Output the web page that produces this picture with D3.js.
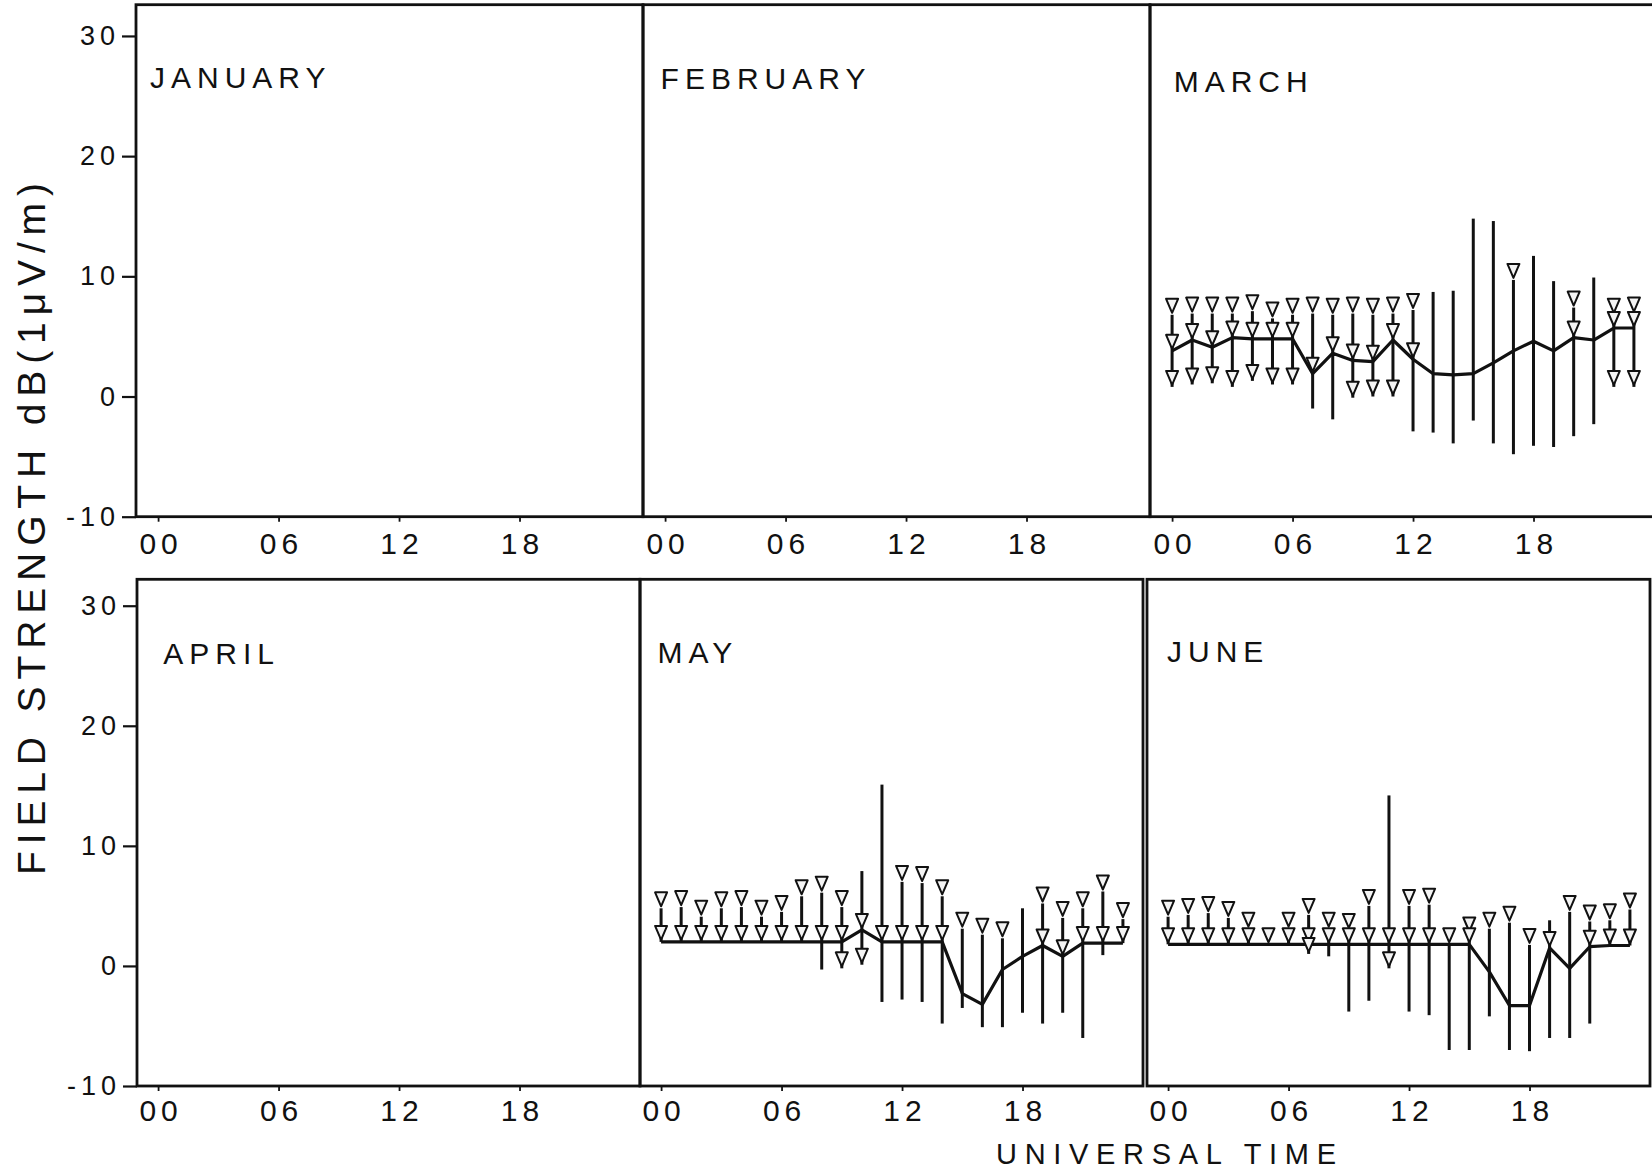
<!DOCTYPE html>
<html><head><meta charset="utf-8">
<script src="https://cdn.jsdelivr.net/npm/d3@7"></script>
<style>
body{margin:0;background:#fff}
svg{display:block;background:#fff}
text{font-family:"Liberation Sans",Arial,Helvetica,sans-serif;fill:#111}
</style></head><body>
<svg id="chart" width="1652" height="1172"></svg>
<script>
// ---------------- data ----------------
const months = ["JANUARY","FEBRUARY","MARCH","APRIL","MAY","JUNE"];
const hours = [0,1,2,3,4,5,6,7,8,9,10,11,12,13,14,15,16,17,18,19,20,21,22,23];
const yTicks = [-10, 0, 10, 20, 30];
const yTickLabels = ["-10","0","10","20","30"];
const xTicks = [0, 6, 12, 18];
const xTickLabels = ["00","06","12","18"];
const yTitle = "FIELD STRENGTH dB(1\u03BCV/m)";
const xTitle = "UNIVERSAL TIME";

// upper decile / median / lower decile (dB); *LT = 1 where the value is a "less than" (triangle) value
const marchUpper    = [6.8,6.9,6.9,6.9,7.1,6.5,6.8,6.9,6.8,6.9,6.8,6.9,7.2,8.7,8.8,14.8,14.6,9.7,11.7,9.6,7.4,9.9,6.8,6.9];
const marchUpperLT  = [1,1,1,1,1,1,1,1,1,1,1,1,1,0,0,0,0,1,0,0,1,0,1,1];
const marchMedian   = [3.8,4.7,4.1,4.9,4.8,4.8,4.8,1.9,3.6,3.0,2.9,4.7,3.1,1.9,1.8,1.9,2.8,3.8,4.6,3.8,4.9,4.7,5.7,5.7];
const marchMedianLT = [1,1,1,1,1,1,1,1,1,1,1,1,1,0,0,0,0,0,0,0,1,0,1,1];
const marchLower    = [0.8,1.0,1.1,0.8,1.3,1.0,1.0,-1.0,-1.9,-0.1,0.0,0.0,-2.9,-3.0,-3.9,-2.0,-3.9,-4.8,-4.1,-4.2,-3.3,-2.3,0.8,0.8];
const marchLowerLT  = [1,1,1,1,1,1,1,0,0,1,1,1,0,0,0,0,0,0,0,0,0,0,1,1];

const mayUpper    = [4.8,4.9,4.1,4.8,4.9,4.1,4.5,5.8,6.1,4.9,7.9,15.1,7.0,6.9,5.8,3.1,2.6,2.3,4.8,5.2,4.0,4.8,6.2,3.9];
const mayUpperLT  = [1,1,1,1,1,1,1,1,1,1,0,0,1,1,1,1,1,1,0,1,1,1,1,1];
const mayMedian   = [2.0,2.0,2.0,2.0,2.0,2.0,2.0,2.0,2.0,2.0,3.0,2.0,2.0,2.0,2.0,-2.3,-3.2,-0.3,0.8,1.7,0.8,1.9,1.9,1.9];
const mayMedianLT = [1,1,1,1,1,1,1,1,1,1,1,1,1,1,1,0,0,0,0,1,1,1,1,1];
const mayLower    = [null,null,null,null,null,null,null,null,-0.3,-0.2,0.1,-3.0,-2.8,-3.0,-4.8,-3.5,-5.1,-5.1,-3.9,-4.8,-3.9,-6.0,0.9,null];
const mayLowerLT  = [0,0,0,0,0,0,0,0,0,1,1,0,0,0,0,0,0,0,0,0,0,0,0,0];

const juneUpper    = [4.1,4.25,4.4,4.0,3.1,null,3.1,4.25,3.1,3.0,5.0,14.2,5.0,5.1,null,2.7,3.1,3.6,1.75,3.8,4.5,3.7,3.8,4.7];
const juneUpperLT  = [1,1,1,1,1,0,1,1,1,1,1,0,1,1,0,1,1,1,1,0,1,1,1,1];
const juneMedian   = [1.8,1.8,1.8,1.8,1.8,1.8,1.8,1.8,1.8,1.8,1.8,1.8,1.8,1.8,1.8,1.8,-0.5,-3.3,-3.3,1.5,-0.2,1.6,1.7,1.7];
const juneMedianLT = [1,1,1,1,1,1,1,1,1,1,1,1,1,1,1,1,0,0,0,1,0,1,1,1];
const juneLower    = [null,null,null,null,null,null,null,1.0,0.8,-3.8,-2.9,-0.2,-3.8,-4.1,-7.0,-7.0,-4.2,-7.0,-7.1,-6.0,-6.0,-4.8,null,null];
const juneLowerLT  = [0,0,0,0,0,0,0,1,0,0,0,1,0,0,0,0,0,0,0,0,0,0,0,0];

const series = {
  MARCH: {upper:marchUpper, upperLT:marchUpperLT, median:marchMedian, medianLT:marchMedianLT, lower:marchLower, lowerLT:marchLowerLT},
  MAY:   {upper:mayUpper,   upperLT:mayUpperLT,   median:mayMedian,   medianLT:mayMedianLT,   lower:mayLower,   lowerLT:mayLowerLT},
  JUNE:  {upper:juneUpper,  upperLT:juneUpperLT,  median:juneMedian,  medianLT:juneMedianLT,  lower:juneLower,  lowerLT:juneLowerLT}
};

// ---------------- layout ----------------
const ink = "#111";
const rows = [
  {top:4.7,   bottom:516.7, yMax:32.6, lefts:[136,643,1150], width:507, xMin:-1.1,  xMax:24.15, tickPad:11},
  {top:579.3, bottom:1086,  yMax:32.2, lefts:[137,640,1147], width:503, xMin:-1.05, xMax:24.0,  tickPad:9}
];
const labelOffsets = [[14,83.6],[17.6,83.8],[23.7,87],[26.3,85],[17.4,83.4],[20,82.3]];

const svg = d3.select("#chart");

function tri(cx, ay){
  const p = d3.path();
  p.moveTo(cx, ay); p.lineTo(cx-6, ay-14); p.lineTo(cx+6, ay-14); p.closePath();
  return p.toString();
}

months.forEach((m, i) => {
  const r = rows[Math.floor(i/3)], c = i % 3;
  const left = r.lefts[c], right = left + r.width;
  const x = d3.scaleLinear().domain([r.xMin, r.xMax]).range([left, right]);
  const y = d3.scaleLinear().domain([-10, r.yMax]).range([r.bottom, r.top]);
  const g = svg.append("g");

  g.append("rect").attr("x", left).attr("y", r.top)
    .attr("width", r.width).attr("height", r.bottom - r.top)
    .attr("fill", "none").attr("stroke", ink).attr("stroke-width", 2.8);

  const ax = g.append("g").attr("transform", `translate(0,${r.bottom})`)
    .call(d3.axisBottom(x).tickValues(xTicks).tickSize(5).tickPadding(r.tickPad)
      .tickFormat((d, k) => xTickLabels[k]));
  ax.select(".domain").remove();
  ax.selectAll("line").attr("stroke", ink).attr("stroke-width", 1.8);
  ax.selectAll("text").attr("font-size", 30).attr("letter-spacing", 5).attr("dx", 2.5).attr("fill", ink);

  if (c === 0) {
    const ay = g.append("g").attr("transform", `translate(${left},0)`)
      .call(d3.axisLeft(y).tickValues(yTicks).tickSize(14).tickPadding(7)
        .tickFormat((d, k) => yTickLabels[k]));
    ay.select(".domain").remove();
    ay.selectAll("line").attr("stroke", ink).attr("stroke-width", 2.2);
    ay.selectAll("text").attr("font-size", 27).attr("letter-spacing", 5).attr("dx", 5).attr("fill", ink);
  }

  g.append("text").attr("x", left + labelOffsets[i][0]).attr("y", r.top + labelOffsets[i][1])
    .attr("font-size", 30).attr("letter-spacing", 6).text(m);

  const s = series[m];
  if (!s) return;
  const pts = hours.map((h, k) => ({h, up:s.upper[k], upLT:s.upperLT[k], med:s.median[k], medLT:s.medianLT[k], lo:s.lower[k], loLT:s.lowerLT[k]}));

  // decile ranges
  g.append("g").selectAll("line").data(pts).join("line")
    .attr("x1", d => x(d.h)).attr("x2", d => x(d.h))
    .attr("y1", d => y(d3.max([d.up, d.med, d.lo].filter(v => v != null))))
    .attr("y2", d => y(d3.min([d.up, d.med, d.lo].filter(v => v != null))))
    .attr("stroke", ink).attr("stroke-width", 3);

  // median line
  g.append("path").datum(pts)
    .attr("d", d3.line().x(d => x(d.h)).y(d => y(d.med)))
    .attr("fill", "none").attr("stroke", ink).attr("stroke-width", 3.2).attr("stroke-linejoin", "round");

  // "less than" triangles
  const tris = [];
  pts.forEach(d => {
    if (d.upLT && d.up != null) tris.push({h:d.h, v:d.up});
    if (d.medLT && d.med != null) tris.push({h:d.h, v:d.med});
    if (d.loLT && d.lo != null) tris.push({h:d.h, v:d.lo});
  });
  g.append("g").selectAll("path").data(tris).join("path")
    .attr("d", d => tri(x(d.h), y(d.v) - 2))
    .attr("fill", "#f4f4f4").attr("stroke", ink).attr("stroke-width", 2).attr("stroke-linejoin", "round");
});

// titles
svg.append("text").attr("transform", "translate(45,529) rotate(-90)")
  .attr("text-anchor", "middle").attr("font-size", 39)
  .attr("textLength", 692).attr("lengthAdjust", "spacing").text(yTitle);
svg.append("text").attr("x", 1166).attr("y", 1164)
  .attr("text-anchor", "middle").attr("font-size", 29)
  .attr("textLength", 340).attr("lengthAdjust", "spacing").text(xTitle);
</script>
</body></html>
